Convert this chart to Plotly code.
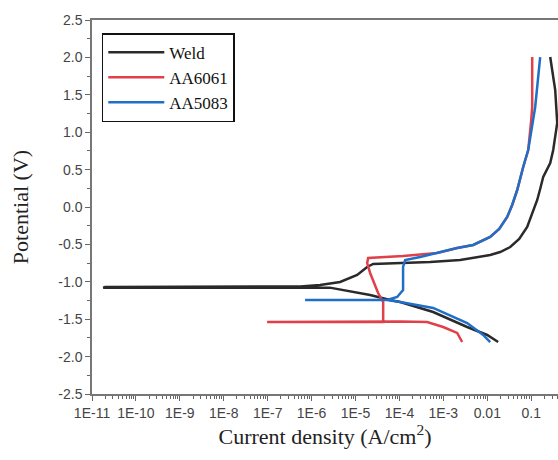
import plotly.graph_objects as go

# ---- data (current density in A/cm^2, potential in V) ----
weld_i = [0.0177, 0.00995, 0.00348, 5.86e-4, 1.04e-4, 6.1e-5, 2.15e-5, 7.5e-6, 2.6e-6, 1.8e-11,
          2.0e-11, 5.5e-7, 1.56e-6, 4.46e-6, 1.09e-5, 1.84e-5, 2.52e-5, 5.0e-4, 2.41e-3, 0.01164,
          0.01967, 0.0333, 0.0533, 0.081, 0.1054, 0.137, 0.160, 0.1876, 0.271, 0.317, 0.391,
          0.352, 0.271]
weld_e = [-1.805, -1.711, -1.604, -1.404, -1.270, -1.243, -1.176, -1.123, -1.078, -1.078,
          -1.068, -1.062, -1.043, -1.003, -0.909, -0.802, -0.762, -0.735, -0.709, -0.642,
          -0.602, -0.535, -0.428, -0.267, -0.094, 0.094, 0.241, 0.401, 0.588, 0.762, 1.123,
          1.564, 2.005]

aa6061_i = [2.68e-3, 2.06e-3, 9.9e-4, 4.28e-4, 1.04e-4, 4.26e-5, 9.7e-8, 4.26e-5, 4.26e-5,
            3.27e-5, 2.15e-5, 1.84e-5, 1.94e-5, 4.72e-5, 1.21e-4, 7.2e-4, 2.06e-3, 4.77e-3,
            0.01164, 0.01866, 0.0284, 0.0369, 0.048, 0.0657, 0.0855, 0.1, 0.1054, 0.1054]
aa6061_e = [-1.805, -1.684, -1.604, -1.537, -1.530, -1.530, -1.537, -1.537, -1.270,
            -1.150, -0.882, -0.749, -0.682, -0.669, -0.655, -0.615, -0.548, -0.508,
            -0.401, -0.294, -0.134, 0.027, 0.227, 0.535, 0.762, 1.163, 1.337, 2.005]

aa5083_i = [0.01164, 8.07e-3, 3.48e-3, 5.86e-4, 1.04e-4, 5.25e-5, 7.1e-7, 5.25e-5, 8.87e-5,
            1.21e-4, 1.21e-4, 1.35e-4, 2.96e-4, 7.2e-4, 2.06e-3, 4.77e-3, 0.01164, 0.01866,
            0.0284, 0.0369, 0.048, 0.0657, 0.0855, 0.1233, 0.160]
aa5083_e = [-1.805, -1.711, -1.551, -1.350, -1.270, -1.243, -1.243, -1.243, -1.203,
            -1.110, -0.802, -0.709, -0.669, -0.615, -0.548, -0.508, -0.401, -0.294,
            -0.134, 0.027, 0.227, 0.535, 0.762, 1.337, 2.005]

x_tickvals = [1e-11, 1e-10, 1e-9, 1e-8, 1e-7, 1e-6, 1e-5, 1e-4, 1e-3, 0.01, 0.1]
x_ticktext = ["1E-11", "1E-10", "1E-9", "1E-8", "1E-7", "1E-6", "1E-5", "1E-4", "1E-3", "0.01", "0.1"]
y_tickvals = [2.5, 2.0, 1.5, 1.0, 0.5, 0.0, -0.5, -1.0, -1.5, -2.0, -2.5]
y_ticktext = ["2.5", "2.0", "1.5", "1.0", "0.5", "0.0", "-0.5", "-1.0", "-1.5", "-2.0", "-2.5"]

fig = go.Figure()
fig.add_trace(go.Scatter(x=weld_i, y=weld_e, name="Weld", mode="lines",
                         line=dict(color="#2a2a2a", width=2.5)))
fig.add_trace(go.Scatter(x=aa6061_i, y=aa6061_e, name="AA6061", mode="lines",
                         line=dict(color="#e0404a", width=2.5)))
fig.add_trace(go.Scatter(x=aa5083_i, y=aa5083_e, name="AA5083", mode="lines",
                         line=dict(color="#1f6ec8", width=2.5)))

fig.update_layout(
    width=558, height=460,
    margin=dict(l=92, r=0, t=20, b=66),
    paper_bgcolor="white", plot_bgcolor="white",
    showlegend=True,
    legend=dict(x=0.021, y=0.965, xanchor="left", yanchor="top",
                bordercolor="#111", borderwidth=1.5, bgcolor="white",
                font=dict(family="Liberation Serif", size=17, color="#111"),
                tracegroupgap=0, itemwidth=56),
    xaxis=dict(type="log", range=[-11, -0.39],
               tickmode="array", tickvals=x_tickvals, ticktext=x_ticktext,
               ticks="outside", ticklen=5, tickcolor="#666",
               minor=dict(ticks="outside", ticklen=3, dtick="D1", tickcolor="#666"),
               showline=True, linecolor="#777", linewidth=1.5, mirror=True,
               showgrid=False, zeroline=False,
               tickfont=dict(family="Liberation Sans", size=14, color="#444"),
               title=dict(text="Current density (A/cm<sup>2</sup>)",
                          font=dict(family="Liberation Serif", size=22, color="#222"),
                          standoff=6)),
    yaxis=dict(range=[-2.5, 2.5],
               tickmode="array", tickvals=y_tickvals, ticktext=y_ticktext,
               ticks="outside", ticklen=5, tickcolor="#666",
               minor=dict(ticks="outside", ticklen=3, dtick=0.25, tickcolor="#666"),
               showline=True, linecolor="#777", linewidth=1.5, mirror=False,
               showgrid=False, zeroline=False,
               tickfont=dict(family="Liberation Sans", size=14, color="#444"),
               title=dict(text="Potential (V)",
                          font=dict(family="Liberation Serif", size=22, color="#222"),
                          standoff=24)),
)

fig.write_html("out.html")
